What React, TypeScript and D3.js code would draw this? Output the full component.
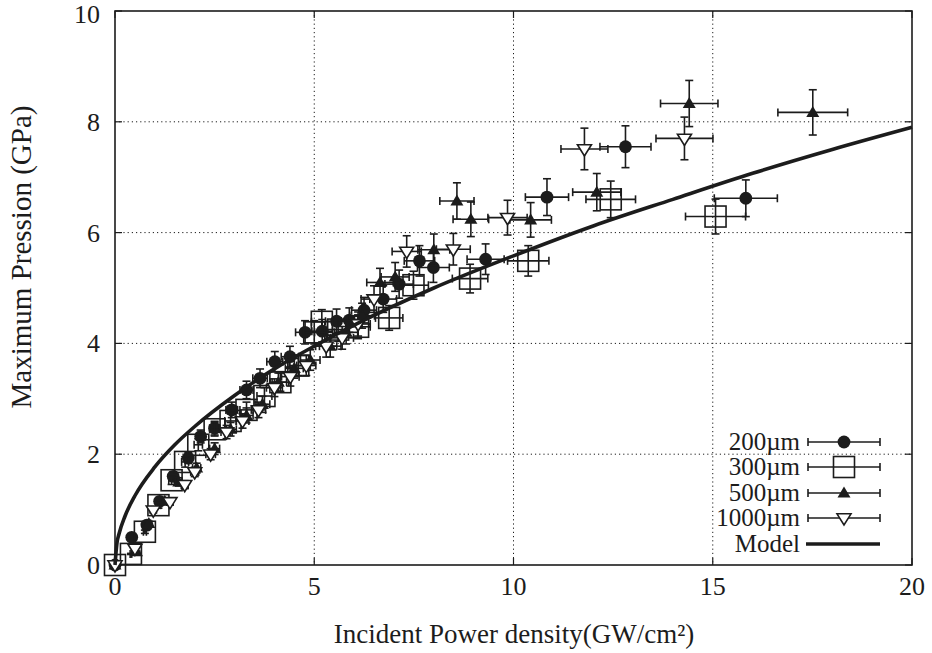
import React from 'react';
import * as d3 from 'd3';

// values
const seriesNames = ['200µm', '300µm', '500µm', '1000µm'];

const x200 = [0, 0.42, 0.8, 1.12, 1.46, 1.84, 2.15, 2.5, 2.93, 3.3, 3.64, 4.01, 4.39, 4.77, 5.2, 5.56, 5.88, 6.25, 6.73, 7.13, 7.64, 7.99, 9.3, 10.84, 12.81, 15.83];
const y200 = [0, 0.5, 0.72, 1.15, 1.6, 1.93, 2.32, 2.47, 2.8, 3.16, 3.37, 3.67, 3.76, 4.2, 4.22, 4.4, 4.42, 4.6, 4.8, 5.07, 5.49, 5.37, 5.52, 6.64, 7.55, 6.62];

const x300 = [0, 0.4, 0.75, 1.09, 1.42, 1.76, 2.09, 2.5, 2.9, 3.3, 3.75, 4.15, 4.6, 5.0, 5.19, 5.6, 6.1, 6.88, 7.49, 8.91, 10.37, 12.44, 15.07];
const y300 = [0, 0.2, 0.6, 1.08, 1.53, 1.86, 2.17, 2.45, 2.6, 2.8, 3.05, 3.3, 3.6, 4.2, 4.39, 4.25, 4.3, 4.46, 5.05, 5.17, 5.49, 6.6, 6.29];

const x500 = [0, 0.54, 0.85, 1.25, 1.6, 2.05, 2.5, 2.9, 3.3, 3.7, 4.1, 4.5, 4.9, 5.4, 5.8, 6.2, 6.65, 7.03, 8.0, 8.58, 8.93, 10.43, 12.09, 14.41, 17.51];
const y500 = [0, 0.24, 0.75, 1.15, 1.5, 1.75, 2.1, 2.45, 2.7, 2.9, 3.3, 3.55, 3.7, 3.95, 4.2, 4.5, 5.1, 5.2, 5.69, 6.57, 6.24, 6.23, 6.73, 8.33, 8.17];

const x1000 = [0, 0.5, 0.96, 1.38, 1.75, 2.0, 2.4, 2.8, 3.2, 3.6, 4.0, 4.4, 4.8, 5.3, 5.7, 6.1, 6.5, 7.32, 8.49, 9.85, 11.78, 14.29];
const y1000 = [0, 0.3, 0.99, 1.14, 1.45, 1.68, 2.0, 2.4, 2.6, 2.8, 3.2, 3.4, 3.6, 3.95, 4.1, 4.35, 4.8, 5.66, 5.7, 6.27, 7.51, 7.7];

// model curve
const modelX = [0, 0.05, 0.1, 0.25, 0.5, 1, 1.5, 2, 3, 4, 5, 6, 8, 10, 12, 14, 16, 18, 20];
const modelY = [0, 0.4, 0.56, 0.88, 1.25, 1.77, 2.17, 2.5, 3.06, 3.54, 3.95, 4.33, 5.0, 5.58, 6.12, 6.6, 7.07, 7.5, 7.9];

const errFrac = 0.05;

const xTicks = [0, 5, 10, 15, 20];
const yTicks = [0, 2, 4, 6, 8, 10];

const W = 932, H = 653;
const M = {left: 115, top: 11, right: 912, bottom: 565};
const INK = '#1c1c1c';
const FONT = '"Liberation Serif", "DejaVu Serif", serif';

const x = d3.scaleLinear().domain([0, 20]).range([M.left, M.right]);
const y = d3.scaleLinear().domain([0, 10]).range([M.bottom, M.top]);

type Kind = 'circle' | 'square' | 'triangle' | 'invtri';
const kinds: Kind[] = ['circle', 'square', 'triangle', 'invtri'];
const xs = [x200, x300, x500, x1000];
const ys = [y200, y300, y500, y1000];

function Marker({kind, cx, cy}: {kind: Kind; cx: number; cy: number}) {
  if (kind === 'circle') return <circle cx={cx} cy={cy} r={6.4} fill={INK}/>;
  if (kind === 'square') return <rect x={cx - 10.5} y={cy - 10.5} width={21} height={21} fill="none" stroke={INK} strokeWidth={1.6}/>;
  if (kind === 'triangle') {
    const s = 6.5;
    return <path d={`M${cx},${cy - s}L${cx + s},${cy + s * 0.7}L${cx - s},${cy + s * 0.7}Z`} fill={INK}/>;
  }
  const s = 7;
  return <path d={`M${cx - s},${cy - s * 0.6}L${cx + s},${cy - s * 0.6}L${cx},${cy + s}Z`} fill="white" stroke={INK} strokeWidth={1.6}/>;
}

function ErrorBar({vx, vy}: {vx: number; vy: number}) {
  const x0 = x(vx * (1 - errFrac)), x1 = x(vx * (1 + errFrac));
  const y0 = y(vy * (1 - errFrac)), y1 = y(vy * (1 + errFrac));
  const cx = x(vx), cy = y(vy), c = 4;
  return (
    <g stroke={INK} strokeWidth={1.6}>
      <line x1={x0} y1={cy} x2={x1} y2={cy}/>
      <line x1={x0} y1={cy - c} x2={x0} y2={cy + c}/>
      <line x1={x1} y1={cy - c} x2={x1} y2={cy + c}/>
      <line x1={cx} y1={y0} x2={cx} y2={y1}/>
      <line x1={cx - c} y1={y0} x2={cx + c} y2={y0}/>
      <line x1={cx - c} y1={y1} x2={cx + c} y2={y1}/>
    </g>
  );
}

export default function App() {
  const line = d3.line<number>()
    .x((_, i) => x(modelX[i]))
    .y(d => y(d))
    .curve(d3.curveMonotoneX);

  const legendY = [442, 467, 493, 518, 544];
  const lx0 = 808, lx1 = 880, lcx = 844;

  return (
    <svg width={W} height={H} style={{position: 'absolute', left: 0, top: 0, background: 'white'}} fontFamily={FONT}>
      <rect width={W} height={H} fill="white"/>
      {/* grid */}
      <g stroke={INK} strokeWidth={1} strokeDasharray="1.2,3">
        {xTicks.slice(1, -1).map(t => <line key={t} x1={x(t)} x2={x(t)} y1={M.top} y2={M.bottom}/>)}
        {yTicks.slice(1, -1).map(t => <line key={t} x1={M.left} x2={M.right} y1={y(t)} y2={y(t)}/>)}
      </g>
      {/* ticks */}
      <g stroke={INK} strokeWidth={1.2}>
        {xTicks.map(t => <g key={t}>
          <line x1={x(t)} x2={x(t)} y1={M.bottom} y2={M.bottom - 7}/>
          <line x1={x(t)} x2={x(t)} y1={M.top} y2={M.top + 7}/>
        </g>)}
        {yTicks.map(t => <g key={t}>
          <line x1={M.left} x2={M.left + 7} y1={y(t)} y2={y(t)}/>
          <line x1={M.right} x2={M.right - 7} y1={y(t)} y2={y(t)}/>
        </g>)}
      </g>
      <rect x={M.left} y={M.top} width={M.right - M.left} height={M.bottom - M.top} fill="none" stroke={INK} strokeWidth={1.6}/>

      {/* tick labels */}
      <g fontSize={26} fill={INK}>
        {xTicks.map(t => <text key={t} x={x(t)} y={M.bottom + 30} textAnchor="middle">{t}</text>)}
        {yTicks.map(t => <text key={t} x={M.left - 15} y={y(t) + (t === 10 ? 12 : 9)} textAnchor="end">{t}</text>)}
      </g>
      <text x={514} y={643} textAnchor="middle" fontSize={27} fill={INK}>Incident Power density(GW/cm²)</text>
      <text transform={`translate(31,257) rotate(-90)`} textAnchor="middle" fontSize={29} fill={INK}>Maximum Pression (GPa)</text>

      {/* data */}
      {kinds.map((k, si) => (
        <g key={k}>
          {xs[si].map((vx, i) => <ErrorBar key={i} vx={vx} vy={ys[si][i]}/>)}
          {xs[si].map((vx, i) => <Marker key={i} kind={k} cx={x(vx)} cy={y(ys[si][i])}/>)}
        </g>
      ))}

      <path d={line(modelY) ?? ''} fill="none" stroke={INK} strokeWidth={3.6}/>

      {/* legend */}
      <g fontSize={25} fill={INK}>
        {seriesNames.map((name, i) => (
          <g key={name}>
            <text x={800} y={legendY[i] + 8} textAnchor="end">{name}</text>
            <g stroke={INK} strokeWidth={1.6}>
              <line x1={lx0} x2={lx1} y1={legendY[i]} y2={legendY[i]}/>
              <line x1={lx0} x2={lx0} y1={legendY[i] - 4} y2={legendY[i] + 4}/>
              <line x1={lx1} x2={lx1} y1={legendY[i] - 4} y2={legendY[i] + 4}/>
            </g>
            <Marker kind={kinds[i]} cx={lcx} cy={legendY[i]}/>
          </g>
        ))}
        <text x={800} y={legendY[4] + 8} textAnchor="end">Model</text>
        <line x1={lx0 - 2} x2={lx1} y1={legendY[4]} y2={legendY[4]} stroke={INK} strokeWidth={3.6}/>
      </g>
    </svg>
  );
}
